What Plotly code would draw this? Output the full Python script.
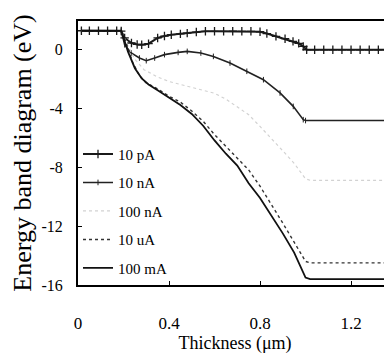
import plotly.graph_objects as go

# ---- data ----
x_10pA = [0.015, 0.05, 0.09, 0.13, 0.17, 0.19, 0.205, 0.235, 0.26, 0.28, 0.31, 0.35, 0.38, 0.41,
          0.45, 0.48, 0.52, 0.56, 0.60, 0.64, 0.68, 0.72, 0.76, 0.80, 0.83, 0.87, 0.91, 0.945,
          0.97, 0.99, 1.005, 1.04, 1.08, 1.12, 1.16, 1.20, 1.24, 1.28, 1.32, 1.36, 1.38]
y_10pA = [1.24, 1.24, 1.24, 1.24, 1.24, 1.22, 0.75, 0.41, 0.31, 0.29, 0.36, 0.75, 0.88, 0.97,
          1.03, 1.08, 1.15, 1.20, 1.20, 1.20, 1.21, 1.20, 1.20, 1.17, 1.05, 0.86, 0.70, 0.52,
          0.38, 0.18, -0.05, -0.05, -0.05, -0.05, -0.05, -0.05, -0.05, -0.05, -0.05, -0.05, -0.05]

x_10nA = [0.015, 0.19, 0.205, 0.234, 0.27, 0.30, 0.337, 0.38, 0.44, 0.48, 0.54, 0.595, 0.668,
          0.742, 0.815, 0.888, 0.946, 0.99, 1.00, 1.38]
y_10nA = [1.24, 1.24, 0.29, -0.27, -0.61, -0.79, -0.61, -0.38, -0.23, -0.16, -0.27, -0.50, -0.95,
          -1.51, -2.08, -2.98, -3.89, -4.79, -4.85, -4.85]

x_100nA = [0.015, 0.19, 0.22, 0.25, 0.29, 0.35, 0.40, 0.45, 0.50, 0.55, 0.60, 0.65, 0.70, 0.75,
           0.80, 0.85, 0.90, 0.95, 1.00, 1.02, 1.38]
y_100nA = [1.24, 1.24, 0.2, -0.7, -1.4, -1.9, -2.2, -2.4, -2.6, -2.8, -3.0, -3.4, -3.9, -4.45,
           -5.25, -6.05, -6.9, -7.75, -8.8, -8.9, -8.9]

x_10uA = [0.015, 0.19, 0.21, 0.24, 0.27, 0.30, 0.35, 0.40, 0.45, 0.50, 0.55, 0.60, 0.65, 0.70,
          0.75, 0.80, 0.85, 0.90, 0.95, 0.98, 1.00, 1.02, 1.38]
y_10uA = [1.24, 1.24, 0.5, -0.9, -1.8, -2.3, -2.7, -3.2, -3.6, -4.2, -4.9, -5.8, -6.6, -7.4,
          -8.2, -9.3, -10.6, -11.8, -13.1, -13.9, -14.4, -14.5, -14.5]

x_100mA = [0.015, 0.19, 0.22, 0.25, 0.28, 0.31, 0.35, 0.40, 0.45, 0.50, 0.55, 0.60, 0.65, 0.70,
           0.75, 0.80, 0.85, 0.90, 0.95, 0.98, 1.00, 1.02, 1.38]
y_100mA = [1.24, 1.24, -0.2, -1.3, -2.0, -2.4, -2.8, -3.3, -3.8, -4.4, -5.2, -6.2, -7.1, -7.9,
           -9.1, -10.1, -11.3, -12.5, -13.8, -14.8, -15.5, -15.6, -15.6]

series_names = ["10 pA", "10 nA", "100 nA", "10 uA", "100 mA"]
x_ticks = [0, 0.4, 0.8, 1.2]
x_tick_labels = ["0", "0.4", "0.8", "1.2"]
y_ticks = [0, -4, -8, -12, -16]
y_tick_labels = ["0", "-4", "-8", "-12", "-16"]

SERIF = "Liberation Serif"

fig = go.Figure()

fig.add_trace(go.Scatter(
    x=x_10pA, y=y_10pA, name=series_names[0], mode="lines+markers", legendgroup="a",
    line=dict(color="#1a1a1a", width=2),
    marker=dict(symbol="cross-thin", size=6, color="#1a1a1a", line=dict(width=1.3, color="#1a1a1a"))))
fig.add_trace(go.Scatter(
    x=x_10nA, y=y_10nA, name=series_names[1], mode="lines+markers", legendgroup="b",
    line=dict(color="#222222", width=1.6),
    marker=dict(symbol="line-ns-open", size=4, color="#222222", line=dict(width=1, color="#222222"))))
fig.add_trace(go.Scatter(
    x=x_100nA, y=y_100nA, name=series_names[2], mode="lines", legendgroup="c",
    line=dict(color="#d2d2d2", width=1.2, dash="dot")))
fig.add_trace(go.Scatter(
    x=x_10uA, y=y_10uA, name=series_names[3], mode="lines", legendgroup="d",
    line=dict(color="#333333", width=1.4, dash="dot")))
fig.add_trace(go.Scatter(
    x=x_100mA, y=y_100mA, name=series_names[4], mode="lines", legendgroup="e",
    line=dict(color="#111111", width=1.8)))

# page body has an 8px margin, so the figure is shifted by 8px; compensate
fig.update_layout(
    width=384, height=348,
    margin=dict(l=70, r=0, t=13, b=71),
    paper_bgcolor="white", plot_bgcolor="white",
    font=dict(family=SERIF, color="black"),
    legend=dict(x=0.0, y=0.558, xanchor="left", yanchor="top", bgcolor="rgba(0,0,0,0)",
                font=dict(family=SERIF, size=15, color="black"),
                traceorder="grouped", tracegroupgap=6, itemwidth=30),
    showlegend=True,
)

fig.update_xaxes(
    range=[0, 1.38], tickvals=x_ticks, ticktext=x_tick_labels,
    showgrid=False, zeroline=False, automargin=False,
    showline=True, linecolor="black", linewidth=2, mirror=True,
    ticks="inside", ticklen=4, tickcolor="black", tickwidth=1,
    tickfont=dict(family=SERIF, size=17), ticklabelstandoff=22,
    title=dict(text="Thickness (μm)", font=dict(family=SERIF, size=18), standoff=0),
)
fig.update_yaxes(
    range=[-16, 1.9], tickvals=y_ticks, ticktext=y_tick_labels,
    showgrid=False, zeroline=False, automargin=False,
    showline=True, linecolor="black", linewidth=2,
    ticks="inside", ticklen=4, tickcolor="black", tickwidth=1,
    tickfont=dict(family=SERIF, size=16), ticklabelstandoff=10,
    title=dict(text="Energy band diagram (eV)", font=dict(family=SERIF, size=26), standoff=14),
)

fig.write_html("out.html")
